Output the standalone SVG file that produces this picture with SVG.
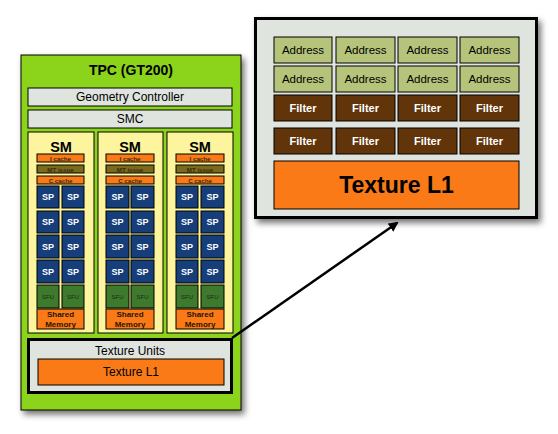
<svg xmlns="http://www.w3.org/2000/svg" width="558" height="434" viewBox="0 0 558 434">
<defs>
<filter id="sh" x="-10%" y="-10%" width="125%" height="125%">
<feDropShadow dx="3" dy="4" stdDeviation="3" flood-color="#000" flood-opacity="0.55"/>
</filter>
<marker id="ah" markerWidth="10" markerHeight="10" refX="8" refY="5" orient="auto" markerUnits="userSpaceOnUse" viewBox="0 0 10 10">
<path d="M0,0 L10,5 L0,10 z" fill="#000"/>
</marker>
</defs>
<style>
text{font-family:"Liberation Sans",Arial,sans-serif;text-anchor:middle;dominant-baseline:central}
.b{stroke:#000;stroke-width:1}
.gray{fill:#e0e4df}
.sm{fill:#fcf59d}
.or{fill:#f97a17}
.mt{fill:#7a6a1c}
.sp{fill:#163e7b}
.sfu{fill:#3d7a2e}
.ad{fill:#b5c47a}
.fi{fill:#62340a}
.tiny{font-size:6.2px;font-weight:bold;fill:#3a2a10}
.spt{font-size:9px;font-weight:bold;fill:#fff}
.sfut{font-size:6px;fill:#1a2a10}
.shm{font-size:8px;font-weight:bold;fill:#2a1400}
.adt{font-size:11.5px;fill:#000}
.fit{font-size:11px;font-weight:bold;fill:#fff}
</style>
<g id="tpc">
<rect x="21" y="55" width="220" height="355" fill="#8cd31b" stroke="#000" stroke-width="1" filter="url(#sh)"/>
<text x="131" y="70" font-size="14" font-weight="bold">TPC (GT200)</text>
</g>
<g id="geometry-controller">
<rect class="gray b" x="28" y="88" width="204" height="18"/>
<text x="130" y="97" font-size="12">Geometry Controller</text>
</g>
<g id="smc">
<rect class="gray b" x="28" y="110" width="204" height="18"/>
<text x="130" y="119" font-size="12">SMC</text>
</g>
<g id="sm1">
<rect class="sm b" x="28" y="132" width="66" height="201"/>
<text x="61" y="147" font-size="14.5" font-weight="bold">SM</text>
<rect class="or b" x="37" y="154" width="47" height="8"/><text class="tiny" x="60.5" y="158">I cache</text>
<rect class="mt b" x="37" y="165" width="47" height="8"/><text class="tiny" x="60.5" y="169">MT issue</text>
<rect class="or b" x="37" y="176" width="47" height="8"/><text class="tiny" x="60.5" y="180">C cache</text>
<rect class="sp b" x="37" y="186" width="22" height="22"/><text class="spt" x="48" y="197">SP</text>
<rect class="sp b" x="62" y="186" width="22" height="22"/><text class="spt" x="73" y="197">SP</text>
<rect class="sp b" x="37" y="211" width="22" height="22"/><text class="spt" x="48" y="222">SP</text>
<rect class="sp b" x="62" y="211" width="22" height="22"/><text class="spt" x="73" y="222">SP</text>
<rect class="sp b" x="37" y="235" width="22" height="23"/><text class="spt" x="48" y="246.5">SP</text>
<rect class="sp b" x="62" y="235" width="22" height="23"/><text class="spt" x="73" y="246.5">SP</text>
<rect class="sp b" x="37" y="260" width="22" height="23"/><text class="spt" x="48" y="271.5">SP</text>
<rect class="sp b" x="62" y="260" width="22" height="23"/><text class="spt" x="73" y="271.5">SP</text>
<rect class="sfu b" x="37" y="285" width="22" height="23"/><text class="sfut" x="48" y="296.5">SFU</text>
<rect class="sfu b" x="62" y="285" width="22" height="23"/><text class="sfut" x="73" y="296.5">SFU</text>
<rect class="or b" x="37" y="309" width="47" height="20"/>
<text class="shm" x="60.5" y="314.5">Shared</text><text class="shm" x="60.5" y="324.5">Memory</text>
</g>
<g id="sm2">
<rect class="sm b" x="98" y="132" width="65" height="201"/>
<text x="130" y="147" font-size="14.5" font-weight="bold">SM</text>
<rect class="or b" x="106" y="154" width="48" height="8"/><text class="tiny" x="130" y="158">I cache</text>
<rect class="mt b" x="106" y="165" width="48" height="8"/><text class="tiny" x="130" y="169">MT issue</text>
<rect class="or b" x="106" y="176" width="48" height="8"/><text class="tiny" x="130" y="180">C cache</text>
<rect class="sp b" x="106" y="186" width="23" height="22"/><text class="spt" x="117.5" y="197">SP</text>
<rect class="sp b" x="131" y="186" width="23" height="22"/><text class="spt" x="142.5" y="197">SP</text>
<rect class="sp b" x="106" y="211" width="23" height="22"/><text class="spt" x="117.5" y="222">SP</text>
<rect class="sp b" x="131" y="211" width="23" height="22"/><text class="spt" x="142.5" y="222">SP</text>
<rect class="sp b" x="106" y="235" width="23" height="23"/><text class="spt" x="117.5" y="246.5">SP</text>
<rect class="sp b" x="131" y="235" width="23" height="23"/><text class="spt" x="142.5" y="246.5">SP</text>
<rect class="sp b" x="106" y="260" width="23" height="23"/><text class="spt" x="117.5" y="271.5">SP</text>
<rect class="sp b" x="131" y="260" width="23" height="23"/><text class="spt" x="142.5" y="271.5">SP</text>
<rect class="sfu b" x="106" y="285" width="23" height="23"/><text class="sfut" x="117.5" y="296.5">SFU</text>
<rect class="sfu b" x="131" y="285" width="23" height="23"/><text class="sfut" x="142.5" y="296.5">SFU</text>
<rect class="or b" x="106" y="309" width="48" height="20"/>
<text class="shm" x="130" y="314.5">Shared</text><text class="shm" x="130" y="324.5">Memory</text>
</g>
<g id="sm3">
<rect class="sm b" x="167" y="132" width="66" height="201"/>
<text x="200" y="147" font-size="14.5" font-weight="bold">SM</text>
<rect class="or b" x="176" y="154" width="48" height="8"/><text class="tiny" x="200" y="158">I cache</text>
<rect class="mt b" x="176" y="165" width="48" height="8"/><text class="tiny" x="200" y="169">MT issue</text>
<rect class="or b" x="176" y="176" width="48" height="8"/><text class="tiny" x="200" y="180">C cache</text>
<rect class="sp b" x="176" y="186" width="22" height="22"/><text class="spt" x="187" y="197">SP</text>
<rect class="sp b" x="201" y="186" width="23" height="22"/><text class="spt" x="212.5" y="197">SP</text>
<rect class="sp b" x="176" y="211" width="22" height="22"/><text class="spt" x="187" y="222">SP</text>
<rect class="sp b" x="201" y="211" width="23" height="22"/><text class="spt" x="212.5" y="222">SP</text>
<rect class="sp b" x="176" y="235" width="22" height="23"/><text class="spt" x="187" y="246.5">SP</text>
<rect class="sp b" x="201" y="235" width="23" height="23"/><text class="spt" x="212.5" y="246.5">SP</text>
<rect class="sp b" x="176" y="260" width="22" height="23"/><text class="spt" x="187" y="271.5">SP</text>
<rect class="sp b" x="201" y="260" width="23" height="23"/><text class="spt" x="212.5" y="271.5">SP</text>
<rect class="sfu b" x="176" y="285" width="22" height="23"/><text class="sfut" x="187" y="296.5">SFU</text>
<rect class="sfu b" x="201" y="285" width="23" height="23"/><text class="sfut" x="212.5" y="296.5">SFU</text>
<rect class="or b" x="176" y="309" width="48" height="20"/>
<text class="shm" x="200" y="314.5">Shared</text><text class="shm" x="200" y="324.5">Memory</text>
</g>
<g id="texture-units">
<rect class="gray" x="28.5" y="339.5" width="203" height="53" stroke="#000" stroke-width="3"/>
<text x="130" y="351" font-size="12">Texture Units</text>
<rect class="or b" x="38" y="359" width="186" height="26"/>
<text x="131" y="372" font-size="12">Texture L1</text>
</g>
<g id="texture-detail">
<rect class="gray" x="255.5" y="18.5" width="281" height="199" stroke="#000" stroke-width="3" filter="url(#sh)"/>
<rect class="ad b" x="274" y="37" width="58" height="26"/><text class="adt" x="303" y="50">Address</text>
<rect class="ad b" x="336" y="37" width="59" height="26"/><text class="adt" x="365.5" y="50">Address</text>
<rect class="ad b" x="398" y="37" width="59" height="26"/><text class="adt" x="427.5" y="50">Address</text>
<rect class="ad b" x="460" y="37" width="59" height="26"/><text class="adt" x="489.5" y="50">Address</text>
<rect class="ad b" x="274" y="66" width="58" height="26"/><text class="adt" x="303" y="79">Address</text>
<rect class="ad b" x="336" y="66" width="59" height="26"/><text class="adt" x="365.5" y="79">Address</text>
<rect class="ad b" x="398" y="66" width="59" height="26"/><text class="adt" x="427.5" y="79">Address</text>
<rect class="ad b" x="460" y="66" width="59" height="26"/><text class="adt" x="489.5" y="79">Address</text>
<rect class="fi b" x="274" y="95" width="58" height="26"/><text class="fit" x="303" y="108">Filter</text>
<rect class="fi b" x="336" y="95" width="59" height="26"/><text class="fit" x="365.5" y="108">Filter</text>
<rect class="fi b" x="398" y="95" width="59" height="26"/><text class="fit" x="427.5" y="108">Filter</text>
<rect class="fi b" x="460" y="95" width="59" height="26"/><text class="fit" x="489.5" y="108">Filter</text>
<rect class="fi b" x="274" y="128" width="58" height="26"/><text class="fit" x="303" y="141">Filter</text>
<rect class="fi b" x="336" y="128" width="59" height="26"/><text class="fit" x="365.5" y="141">Filter</text>
<rect class="fi b" x="398" y="128" width="59" height="26"/><text class="fit" x="427.5" y="141">Filter</text>
<rect class="fi b" x="460" y="128" width="59" height="26"/><text class="fit" x="489.5" y="141">Filter</text>
<rect class="or b" x="274" y="161" width="245" height="48"/>
<text x="396.5" y="185" font-size="23" font-weight="bold">Texture L1</text>
</g>
<g id="connectors">
<line x1="232" y1="338" x2="397" y2="223" stroke="#000" stroke-width="2.5" marker-end="url(#ah)"/>
</g>
</svg>
